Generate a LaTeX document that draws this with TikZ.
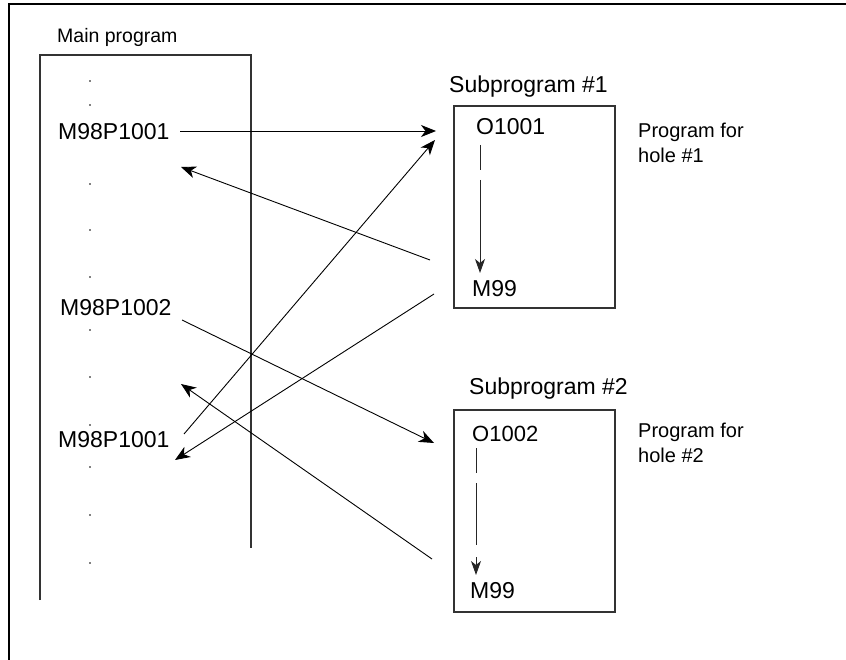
\documentclass[tikz,border=0pt]{standalone}
\usepackage{fontspec}
\setmainfont{Liberation Sans}
\usetikzlibrary{arrows.meta}
\tikzset{
  txt/.style={inner sep=0pt, anchor=base west, font=\fontsize{23}{27}\selectfont},
  smalltxt/.style={inner sep=0pt, anchor=base west, font=\fontsize{19.5}{23}\selectfont},
  notetxt/.style={inner sep=0pt, anchor=north west, align=left, font=\fontsize{20}{25}\selectfont},
  frame/.style={line width=2pt, black},
  boxline/.style={line width=1.2pt, black!80},
  conn/.style={line width=0.9pt, -{Stealth[length=15pt, width=12pt, inset=4.5pt]}},
  flow/.style={line width=1pt, black!85, -{Stealth[length=14pt, width=10pt, inset=4pt]}},
  dotmark/.style={circle, fill=black, inner sep=0pt, minimum size=1.6pt}
}
\begin{document}
\begin{tikzpicture}[x=1pt, y=-1pt]
\useasboundingbox (0,0) rectangle (846,660);
% outer frame (top and left edges)
\draw[frame] (9,660) -- (9,4) -- (846,4);

% main program column
\node[smalltxt] (mainlbl) at (57,43) {Main program};
\draw[boxline] (40,600) -- (40,55) -- (251,55) -- (251,548);

% listing dots
\foreach \yy [count=\i] in {81,105,184,230,277,330,377,425,467,515,563}
  \node[dotmark] (d\i) at (90,\yy) {};

\node[txt] (m1) at (58,140) {M98P1001};
\node[txt] (m2) at (60,316) {M98P1002};
\node[txt] (m3) at (58,447) {M98P1001};

% subprogram 1
\node[txt] (s1lbl) at (449,93) {Subprogram \#1};
\draw[boxline] (454,106) rectangle (615,308);
\node[txt] (o1) at (476,135) {O1001};
\node[txt] (e1) at (472,297) {M99};
\node[notetxt] (n1) at (638,123) {Program for\\hole \#1};
\coordinate (f1a) at (480,145);
\coordinate (f1b) at (480,273);
\draw[flow, dash pattern=on 25pt off 10pt on 300pt] (f1a) -- (f1b);

% subprogram 2
\node[txt] (s2lbl) at (469,394) {Subprogram \#2};
\draw[boxline] (454,410) rectangle (615,612);
\node[txt, font=\fontsize{22}{26}\selectfont] (o2) at (472,441) {O1002};
\node[txt] (e2) at (470,598) {M99};
\node[notetxt] (n2) at (638,423) {Program for\\hole \#2};
\coordinate (f2a) at (476,448);
\coordinate (f2b) at (476,575);
\draw[flow, dash pattern=on 25pt off 10pt on 62pt off 12pt on 300pt] (f2a) -- (f2b);

% connector end points
\coordinate (c1s) at (180,131);  \coordinate (c1e) at (436,131);
\coordinate (c2s) at (430,260);  \coordinate (c2e) at (181,167);
\coordinate (c3s) at (434,294);  \coordinate (c3e) at (175,460);
\coordinate (c4s) at (182,320);  \coordinate (c4e) at (434,443);
\coordinate (c5s) at (184,434);  \coordinate (c5e) at (435,140);
\coordinate (c6s) at (432,559);  \coordinate (c6e) at (181,384);

\draw[conn] (c1s) -- (c1e);
\draw[conn] (c2s) -- (c2e);
\draw[conn] (c3s) -- (c3e);
\draw[conn] (c4s) -- (c4e);
\draw[conn] (c5s) -- (c5e);
\draw[conn] (c6s) -- (c6e);
\end{tikzpicture}
\end{document}
